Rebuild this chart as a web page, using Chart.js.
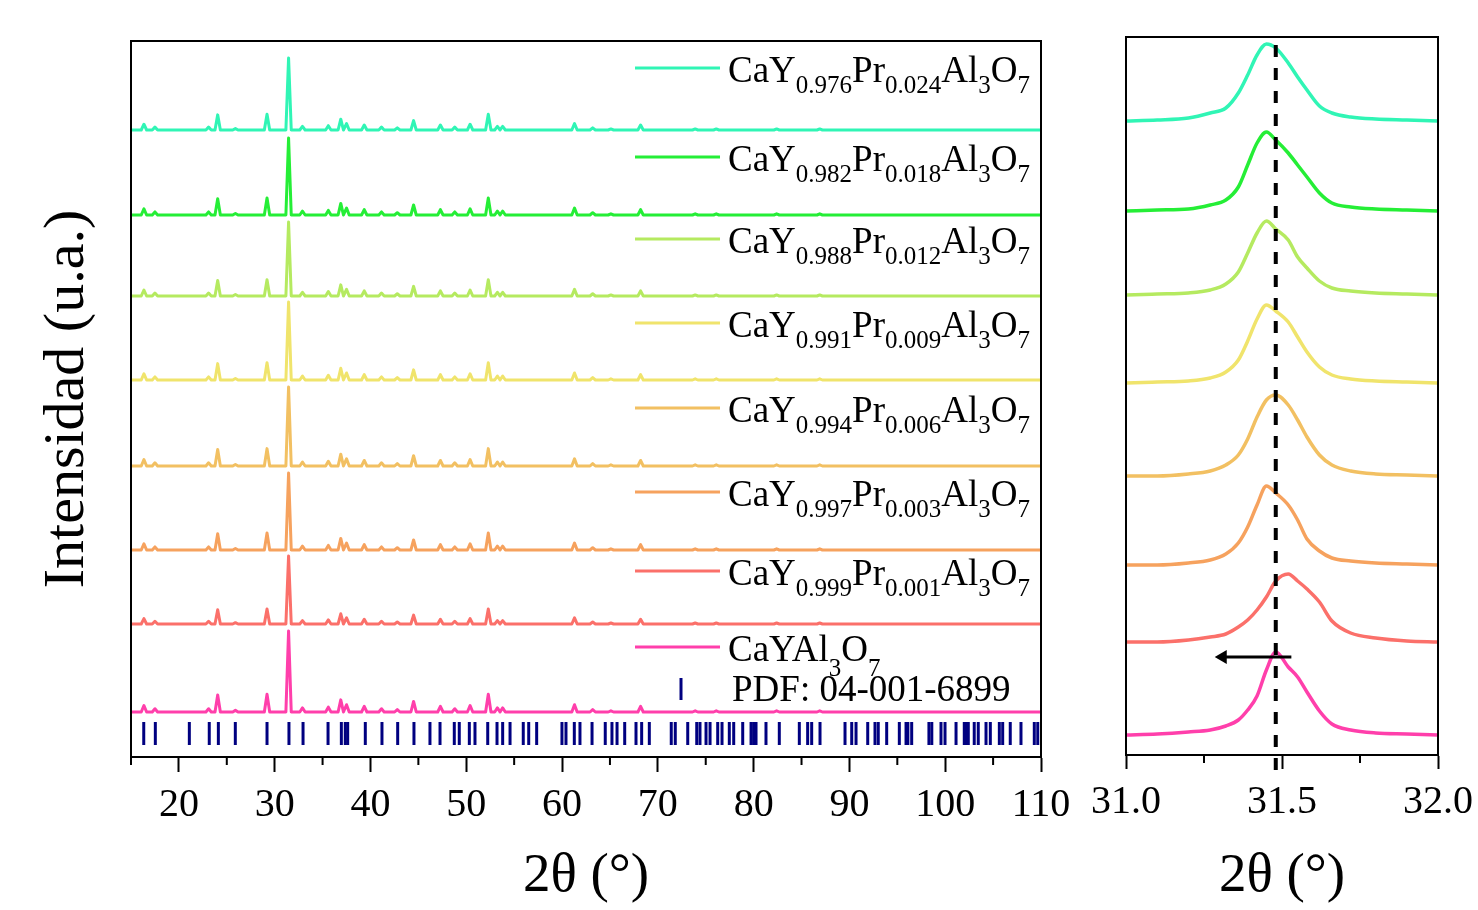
<!DOCTYPE html>
<html lang="es">
<head>
    <meta charset="UTF-8">
    <title>DRX CaY1-xPrxAl3O7</title>
    <style>
        body {
            margin: 0;
            background: #fff;
        }

        #wrap {
            position: relative;
            width: 1478px;
            height: 910px;
            overflow: hidden;
        }

        #leftChart {
            position: absolute;
            left: 0;
            top: 0;
        }

        #rightChart {
            position: absolute;
            left: 1085px;
            top: 0;
        }
    </style>
</head>
<body>
    <div id="wrap">
        <canvas id="leftChart" width="1085" height="910" style="width:1085px;height:910px"></canvas>
        <canvas id="rightChart" width="393" height="910" style="width:393px;height:910px"></canvas>
    </div>
    <script src="https://cdn.jsdelivr.net/npm/chart.js"></script>
    <script>
        // --- data ---
        // composition CaY(1-x)Pr(x)Al3O7, top to bottom
        const yFrac = ['0.976', '0.982', '0.988', '0.991', '0.994', '0.997', '0.999', null];
        const prFrac = ['0.024', '0.018', '0.012', '0.009', '0.006', '0.003', '0.001', null];
        const colors = ['#30f5b5', '#25ee36', '#b5ea60', '#f0e46c', '#f2c062', '#f6a25e', '#fb706a', '#ff3fab'];

        // full pattern: baseline of every stacked pattern and height of the main peak (a.u.)
        const offsets = [627, 542, 461, 377, 291, 207, 133, 45];
        const mainHeight = [72, 77, 74, 78, 79, 77, 68, 81];
        // peak positions (2θ) and relative intensities (%)
        const peakPos = [16.35, 17.5, 23.1, 24.05, 25.9, 29.2, 31.45, 32.9, 35.6, 36.9, 37.5, 39.35, 41.15, 42.8,
            44.5, 47.3, 48.8, 50.4, 52.3, 53.25, 53.8, 61.3, 63.2, 65.1, 68.2, 73.9, 76.1, 82.4, 86.9];
        const peakInt = [8, 4, 4, 21, 2, 22, 100, 5, 6, 15, 9, 7, 4, 3,
            13, 7, 4, 8, 22, 5, 5, 9, 3, 1.5, 7, 1.5, 1.5, 1.5, 1.5];
        const peakHalfWidth = 0.28;

        // reference lines PDF 04-001-6899 (2θ)
        const pdfPos = [16.33, 17.54, 21.09, 23.17, 24.12, 25.89, 29.2, 31.49, 32.96, 35.57, 36.96, 37.37, 37.62,
            39.46, 41.2, 42.84, 44.54, 46.21, 47.26, 48.75, 49.27, 50.32, 50.91, 52.24, 53.21, 53.8, 54.57, 55.95,
            56.52, 57.35, 59.99, 60.41, 61.28, 61.87, 63.13, 64.51, 65.21, 65.74, 66.54, 67.72, 68.31, 69.11, 71.4,
            71.82, 73.12, 74.06, 74.4, 75.03, 75.45, 76.25, 76.7, 77.46, 77.92, 78.86, 79.73, 80.0, 80.25, 81.29,
            82.68, 84.77, 85.64, 86.06, 86.93, 89.54, 90.24, 90.69, 91.91, 92.67, 93.01, 93.89, 95.21, 95.91, 96.1,
            96.5, 98.3, 98.6, 99.56, 99.98, 101.13, 101.99, 102.2, 102.41, 103.03, 103.45, 104.26, 104.71, 105.65,
            106.0, 106.79, 107.91, 109.3, 109.66];
        const pdfLevel = 23.5;

        // zoom 31.0 - 32.0
        const zoomX = [31.0, 31.1, 31.2, 31.27, 31.32, 31.36, 31.39, 31.42, 31.45, 31.48, 31.52, 31.55, 31.58,
            31.62, 31.66, 31.72, 31.8, 31.9, 32.0];
        const zoomY = [
            [634, 635, 637, 642, 647, 662, 680, 700, 711, 707, 692, 678, 665, 649, 642, 638, 636, 635, 634],
            [544, 545, 546, 550, 555, 568, 590, 612, 623, 615, 602, 590, 578, 562, 552, 548, 546, 545, 544],
            [460, 461, 462, 465, 471, 483, 502, 522, 534, 526, 515, 498, 487, 474, 467, 464, 462, 461, 460],
            [372, 373, 374, 377, 383, 395, 414, 436, 450, 444, 433, 418, 403, 388, 380, 376, 374, 373, 372],
            [279, 279, 281, 284, 290, 300, 316, 338, 355, 360, 350, 335, 318, 300, 290, 284, 281, 280, 279],
            [190, 190, 192, 195, 201, 212, 228, 250, 269, 262, 250, 235, 216, 204, 197, 194, 192, 191, 190],
            [113, 113, 115, 118, 121, 128, 135, 145, 158, 174, 181, 174, 166, 153, 134, 122, 117, 114, 113],
            [20, 21, 23, 25, 29, 35, 45, 59, 85, 103, 88, 78, 63, 44, 31, 25, 22, 21, 20]
        ];
        const refPeak = 31.48;
        const arrowFrom = 31.53;
        const arrowTo = 31.31;
        const arrowLevel = 98;

        const serif = 'Liberation Serif';

        function pattern(i) {
            const pts = [{ x: 15, y: offsets[i] }];
            peakPos.forEach((p, k) => {
                pts.push({ x: p - peakHalfWidth, y: offsets[i] });
                pts.push({ x: p, y: offsets[i] + peakInt[k] / 100 * mainHeight[i] });
                pts.push({ x: p + peakHalfWidth, y: offsets[i] });
            });
            pts.push({ x: 110, y: offsets[i] });
            return pts;
        }

        // box around the plot + minor ticks
        function framePlugin(minorTicks) {
            return {
                id: 'frame',
                afterDraw(chart) {
                    const { ctx, chartArea } = chart;
                    const xs = chart.scales.x;
                    ctx.save();
                    ctx.strokeStyle = '#000';
                    ctx.lineWidth = 2;
                    ctx.strokeRect(chartArea.left, chartArea.top, chartArea.right - chartArea.left, chartArea.bottom - chartArea.top);
                    ctx.beginPath();
                    minorTicks.forEach(v => {
                        const px = xs.getPixelForValue(v);
                        ctx.moveTo(px, chartArea.bottom);
                        ctx.lineTo(px, chartArea.bottom + 8);
                    });
                    ctx.stroke();
                    ctx.restore();
                }
            };
        }

        // legend with subscripts
        const legendPlugin = {
            id: 'formulaLegend',
            afterDraw(chart) {
                const { ctx } = chart;
                const rowY = [68, 157, 239, 323, 408, 492, 571, 647];
                const mainFont = '37px "' + serif + '"';
                const subFont = '25px "' + serif + '"';
                ctx.save();
                ctx.textBaseline = 'alphabetic';
                ctx.fillStyle = '#000';
                colors.forEach((c, i) => {
                    const y = rowY[i];
                    ctx.strokeStyle = c;
                    ctx.lineWidth = 3;
                    ctx.beginPath();
                    ctx.moveTo(635, y);
                    ctx.lineTo(720, y);
                    ctx.stroke();
                    const parts = yFrac[i]
                        ? [['CaY', 0], [yFrac[i], 1], ['Pr', 0], [prFrac[i], 1], ['Al', 0], ['3', 1], ['O', 0], ['7', 1]]
                        : [['CaYAl', 0], ['3', 1], ['O', 0], ['7', 1]];
                    const subDrop = yFrac[i] ? 11 : 15;
                    let x = 728;
                    parts.forEach(([t, sub]) => {
                        ctx.font = sub ? subFont : mainFont;
                        ctx.fillText(t, x, y + 14 + (sub ? subDrop : 0));
                        x += ctx.measureText(t).width;
                    });
                });
                // reference pattern entry
                ctx.strokeStyle = '#000080';
                ctx.lineWidth = 3;
                ctx.beginPath();
                ctx.moveTo(681, 678);
                ctx.lineTo(681, 700);
                ctx.stroke();
                ctx.font = mainFont;
                ctx.fillText('PDF: 04-001-6899', 732, 701);
                ctx.restore();
            }
        };

        const tickFont = { family: serif, size: 40 };
        const titleFont = { family: serif, size: 55 };

        const leftSets = colors.map((c, i) => ({
            data: pattern(i),
            borderColor: c,
            borderWidth: 3,
            borderJoinStyle: 'round',
            pointRadius: 0,
            tension: 0
        }));
        leftSets.push({
            type: 'scatter',
            data: pdfPos.map(p => ({ x: p, y: pdfLevel })),
            showLine: false,
            borderColor: '#000080',
            pointBorderColor: '#000080',
            pointStyle: 'line',
            pointRotation: 90,
            pointRadius: 11.5,
            pointBorderWidth: 3
        });

        new Chart(document.getElementById('leftChart'), {
            type: 'line',
            data: { datasets: leftSets },
            options: {
                responsive: false,
                animation: false,
                devicePixelRatio: 1,
                layout: { padding: { left: 0, right: 44, top: 41, bottom: 0 } },
                plugins: { legend: { display: false }, tooltip: { enabled: false } },
                scales: {
                    x: {
                        type: 'linear',
                        min: 15,
                        max: 110,
                        afterBuildTicks(s) {
                            s.ticks = [20, 30, 40, 50, 60, 70, 80, 90, 100, 110].map(v => ({ value: v }));
                        },
                        afterFit(s) { s.height = 153; s.paddingLeft = 0; s.paddingRight = 0; },
                        grid: { drawOnChartArea: false, tickLength: 15, tickWidth: 2, tickColor: '#000' },
                        border: { display: true, color: '#000', width: 2 },
                        ticks: { font: tickFont, color: '#000', padding: 9, maxRotation: 0 },
                        title: { display: true, text: '2θ (°)', font: titleFont, color: '#000', padding: { top: 0, bottom: 0 } }
                    },
                    y: {
                        min: 0,
                        max: 716,
                        afterFit(s) { s.width = 131; },
                        grid: { display: false },
                        border: { display: false },
                        ticks: { display: false },
                        title: { display: true, text: 'Intensidad (u.a.)', font: { family: serif, size: 58 }, color: '#000', padding: { top: 33, bottom: 0 } }
                    }
                }
            },
            plugins: [framePlugin([15, 25, 35, 45, 55, 65, 75, 85, 95, 105]), legendPlugin]
        });

        const rightSets = [{
            // reference position of the main peak
            data: [{ x: refPeak, y: -15 }, { x: refPeak, y: 718 }],
            borderColor: '#000',
            borderWidth: 4,
            borderDash: [12, 11],
            pointRadius: 0,
            clip: false
        }, {
            data: [{ x: arrowTo, y: arrowLevel }, { x: arrowFrom, y: arrowLevel }],
            borderColor: '#000',
            backgroundColor: '#000',
            borderWidth: 3,
            pointStyle: 'triangle',
            pointRotation: -90,
            pointRadius: [8, 0],
            pointBackgroundColor: '#000',
            pointBorderWidth: 0
        }];
        colors.forEach((c, i) => {
            rightSets.push({
                data: zoomX.map((x, k) => ({ x: x, y: zoomY[i][k] })),
                borderColor: c,
                borderWidth: 3.5,
                pointRadius: 0,
                cubicInterpolationMode: 'monotone'
            });
        });

        new Chart(document.getElementById('rightChart'), {
            type: 'line',
            data: { datasets: rightSets },
            options: {
                responsive: false,
                animation: false,
                devicePixelRatio: 1,
                layout: { padding: { left: 41, right: 40, top: 37, bottom: 0 } },
                plugins: { legend: { display: false }, tooltip: { enabled: false } },
                scales: {
                    x: {
                        type: 'linear',
                        min: 31,
                        max: 32,
                        afterBuildTicks(s) {
                            s.ticks = [31, 31.5, 32].map(v => ({ value: v }));
                        },
                        afterFit(s) { s.height = 155; s.paddingLeft = 0; s.paddingRight = 0; },
                        grid: { drawOnChartArea: false, tickLength: 14, tickWidth: 2, tickColor: '#000' },
                        border: { display: true, color: '#000', width: 2 },
                        ticks: { font: tickFont, color: '#000', padding: 9, maxRotation: 0, callback: v => v.toFixed(1) },
                        title: { display: true, text: '2θ (°)', font: titleFont, color: '#000', padding: { top: 0, bottom: 0 } }
                    },
                    y: { display: false, min: 0, max: 718 }
                }
            },
            plugins: [framePlugin([31.25, 31.75])]
        });
    </script>
</body>
</html>
